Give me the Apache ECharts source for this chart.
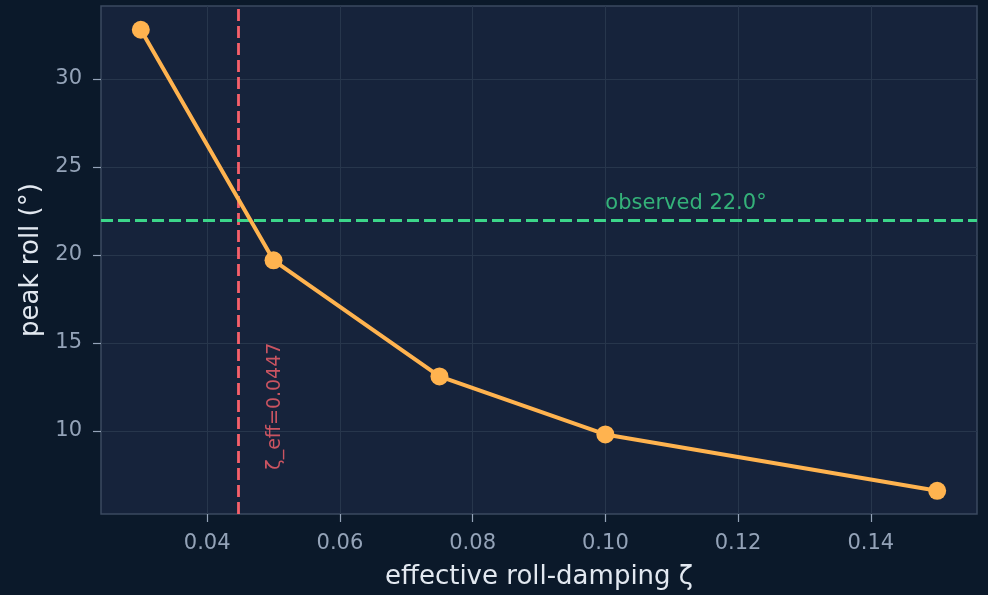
<!DOCTYPE html>
<html>
<head>
<meta charset="utf-8">
<script src="https://cdn.jsdelivr.net/npm/echarts@6/dist/echarts.min.js"></script>
<style>
  html, body { margin: 0; padding: 0; background: #0b192a; }
  #chart { width: 988px; height: 595px; }
</style>
</head>
<body>
<div id="chart"></div>
<script>
// Peak roll angle versus effective roll damping
const zetaValues = [0.03, 0.05, 0.075, 0.10, 0.15];
const peakRoll = [32.8, 19.7, 13.1, 9.8, 6.6];
const xTicks = [0.04, 0.06, 0.08, 0.10, 0.12, 0.14];
const yTicks = [10, 15, 20, 25, 30];
const zetaEff = 0.0447;
const observedRoll = 22.0;

const FONT = 'DejaVu Sans';
const tickColor = '#94a3b8';
const gridLineColor = '#27364c';
const orange = '#ffb34f';
const red = '#f7606b';
const green = '#3cd68a';

const chart = echarts.init(document.getElementById('chart'), null, { renderer: 'canvas' });

chart.setOption({
  backgroundColor: '#0b192a',
  animation: false,
  textStyle: { fontFamily: FONT },
  grid: {
    left: 101, right: 11, top: 6, bottom: 81,
    show: true,
    backgroundColor: '#16233b',
    borderColor: '#3b4a60',
    borderWidth: 1.5
  },
  xAxis: {
    type: 'value',
    min: 0.024, max: 0.156,
    name: 'effective roll-damping ζ',
    nameLocation: 'middle',
    nameGap: 50,
    nameTextStyle: { color: '#e2e8f0', fontSize: 26, fontFamily: FONT },
    axisLine: { show: false },
    axisTick: { show: true, length: 8, lineStyle: { color: tickColor, width: 1.2 }, customValues: xTicks },
    axisLabel: {
      color: tickColor, fontSize: 21, fontFamily: FONT, margin: 19,
      customValues: xTicks,
      formatter: v => v.toFixed(2)
    },
    splitLine: { show: true, lineStyle: { color: gridLineColor, width: 1 } }
  },
  yAxis: {
    type: 'value',
    min: 5.28, max: 34.15,
    name: 'peak roll (°)',
    nameLocation: 'middle',
    nameGap: 54,
    nameTextStyle: { color: '#e2e8f0', fontSize: 26, fontFamily: FONT },
    axisLine: { show: false },
    axisTick: { show: true, length: 8, lineStyle: { color: tickColor, width: 1.2 }, customValues: yTicks },
    axisLabel: {
      color: tickColor, fontSize: 21, fontFamily: FONT, margin: 19,
      customValues: yTicks,
      formatter: v => String(v)
    },
    splitLine: { show: true, lineStyle: { color: gridLineColor, width: 1 } }
  },
  series: [
    {
      type: 'line',
      data: zetaValues.map((z, i) => [z, peakRoll[i]]),
      symbol: 'circle',
      symbolSize: 18,
      lineStyle: { color: orange, width: 4 },
      itemStyle: { color: orange },
      z: 5,
      markLine: {
        silent: true,
        symbol: 'none',
        precision: 6,
        label: { show: false },
        data: [
          { xAxis: zetaEff, lineStyle: { color: red, width: 2.8, type: [12, 5] } },
          { yAxis: observedRoll, lineStyle: { color: green, width: 2.8, type: [12, 5] } }
        ]
      }
    },
    {
      // text annotations anchored in data space
      type: 'scatter',
      symbolSize: 0,
      silent: true,
      z: 6,
      data: [
        {
          value: [0.0502, 7.8],
          label: {
            show: true, position: 'inside', rotate: 90,
            align: 'left', verticalAlign: 'middle',
            formatter: 'ζ_eff=' + zetaEff.toFixed(4),
            color: red, fontSize: 19, fontFamily: FONT
          }
        },
        {
          value: [0.1, 22.35],
          label: {
            show: true, position: 'inside',
            align: 'left', verticalAlign: 'bottom',
            formatter: 'observed ' + observedRoll.toFixed(1) + '°',
            color: green, fontSize: 21, fontFamily: FONT
          }
        }
      ]
    }
  ]
});
</script>
</body>
</html>
